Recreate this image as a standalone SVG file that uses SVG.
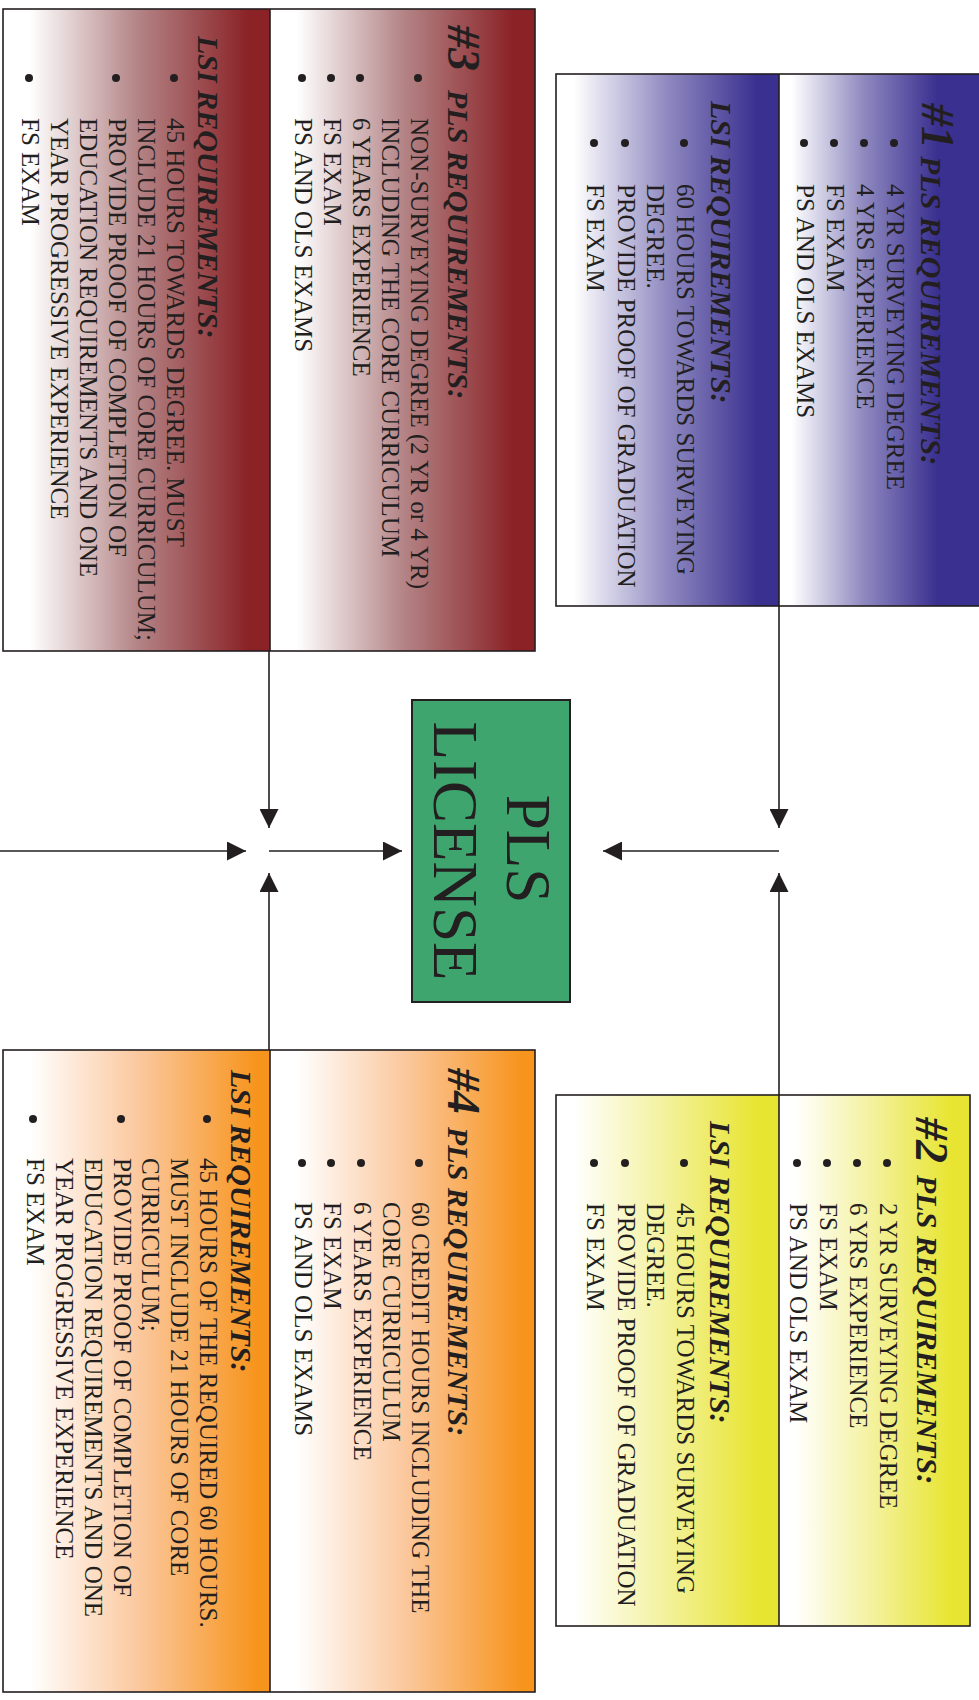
<svg xmlns="http://www.w3.org/2000/svg" width="979" height="1700" viewBox="0 0 979 1700">
<defs>
<linearGradient id="gBlue"><stop offset="0.08" stop-color="#ffffff"/><stop offset="0.5" stop-color="#8f89c0"/><stop offset="0.9" stop-color="#3a3090"/></linearGradient>
<linearGradient id="gBlueR"><stop offset="0.06" stop-color="#ffffff"/><stop offset="0.4" stop-color="#8f89c0"/><stop offset="0.75" stop-color="#3a3090"/></linearGradient>
<linearGradient id="gYel"><stop offset="0.08" stop-color="#ffffff"/><stop offset="0.5" stop-color="#f3f19a"/><stop offset="0.9" stop-color="#e8e532"/></linearGradient>
<linearGradient id="gRed"><stop offset="0.1" stop-color="#ffffff"/><stop offset="0.5" stop-color="#b48587"/><stop offset="0.92" stop-color="#8a2226"/></linearGradient>
<linearGradient id="gOra"><stop offset="0.1" stop-color="#ffffff"/><stop offset="0.5" stop-color="#fbc9a0"/><stop offset="0.95" stop-color="#f7941d"/></linearGradient>
<marker id="ah" viewBox="0 0 10 10" refX="10" refY="5" markerWidth="19" markerHeight="19" markerUnits="userSpaceOnUse" orient="auto"><path d="M0,0 L10,5 L0,10 z" fill="#231f20"/></marker>
</defs>
<style>
.t{font-family:"Liberation Serif","Times New Roman",serif;font-size:25px;fill:#231f20}
.h{font-family:"Liberation Serif","Times New Roman",serif;font-size:30px;font-weight:bold;font-style:italic;fill:#231f20}
.n{font-family:"Liberation Serif","Times New Roman",serif;font-size:46px;font-weight:bold;font-style:italic;fill:#231f20}
.g{font-family:"Liberation Serif","Times New Roman",serif;font-size:63px;fill:#231f20;text-anchor:middle}
.box{stroke:#231f20;stroke-width:1.6;fill:none}
.bul{fill:#231f20}
.c{stroke:#231f20;stroke-width:1.6;fill:none}
</style>
<rect width="979" height="1700" fill="#ffffff"/>

<g id="box1">
<rect x="556" y="74" width="223" height="532" fill="url(#gBlue)"/>
<rect x="779" y="74" width="211" height="532" fill="url(#gBlueR)"/>
<rect x="556" y="74" width="434" height="532" class="box"/>
<line x1="779" y1="74" x2="779" y2="606" class="box"/>
<circle class="bul" cx="894" cy="143" r="4"/><circle class="bul" cx="864" cy="143" r="4"/><circle class="bul" cx="834" cy="143" r="4"/><circle class="bul" cx="804" cy="143" r="4"/>
<circle class="bul" cx="684" cy="143" r="4"/><circle class="bul" cx="625" cy="143" r="4"/><circle class="bul" cx="594" cy="143" r="4"/>
<g transform="rotate(90)">
<text class="n" x="103" y="-922">#1</text>
<text class="h" x="156" y="-921">PLS REQUIREMENTS:</text>
<text class="t" x="184" y="-887">4 YR SURVEYING DEGREE</text>
<text class="t" x="184" y="-857">4 YRS EXPERIENCE</text>
<text class="t" x="184" y="-827">FS EXAM</text>
<text class="t" x="184" y="-797">PS AND OLS EXAMS</text>
<text class="h" x="101" y="-711">LSI REQUIREMENTS:</text>
<text class="t" x="184" y="-677">60 HOURS TOWARDS SURVEYING</text>
<text class="t" x="184" y="-647">DEGREE.</text>
<text class="t" x="184" y="-618">PROVIDE PROOF OF GRADUATION</text>
<text class="t" x="184" y="-587">FS EXAM</text>
</g>
</g>

<g id="box2">
<rect x="556" y="1095" width="223" height="531" fill="url(#gYel)"/>
<rect x="779" y="1095" width="191" height="531" fill="url(#gYel)"/>
<rect x="556" y="1095" width="414" height="531" class="box"/>
<line x1="779" y1="1095" x2="779" y2="1626" class="box"/>
<circle class="bul" cx="887" cy="1163" r="4"/><circle class="bul" cx="857" cy="1163" r="4"/><circle class="bul" cx="827" cy="1163" r="4"/><circle class="bul" cx="797" cy="1163" r="4"/>
<circle class="bul" cx="684" cy="1163" r="4"/><circle class="bul" cx="625" cy="1163" r="4"/><circle class="bul" cx="594" cy="1163" r="4"/>
<g transform="rotate(90)">
<text class="n" x="1117" y="-916">#2</text>
<text class="h" x="1175" y="-917">PLS REQUIREMENTS:</text>
<text class="t" x="1203" y="-880">2 YR SURVEYING DEGREE</text>
<text class="t" x="1203" y="-850">6 YRS EXPERIENCE</text>
<text class="t" x="1203" y="-820">FS EXAM</text>
<text class="t" x="1203" y="-790">PS AND OLS EXAM</text>
<text class="h" x="1121" y="-710">LSI REQUIREMENTS:</text>
<text class="t" x="1203" y="-677">45 HOURS TOWARDS SURVEYING</text>
<text class="t" x="1203" y="-647">DEGREE.</text>
<text class="t" x="1203" y="-618">PROVIDE PROOF OF GRADUATION</text>
<text class="t" x="1203" y="-587">FS EXAM</text>
</g>
</g>

<g id="box3">
<rect x="3" y="9" width="267" height="642" fill="url(#gRed)"/>
<rect x="270" y="9" width="265" height="642" fill="url(#gRed)"/>
<rect x="3" y="9" width="532" height="642" class="box"/>
<line x1="270" y1="9" x2="270" y2="651" class="box"/>
<circle class="bul" cx="418" cy="78" r="4"/><circle class="bul" cx="360" cy="78" r="4"/><circle class="bul" cx="331" cy="78" r="4"/><circle class="bul" cx="302" cy="78" r="4"/>
<circle class="bul" cx="174" cy="78" r="4"/><circle class="bul" cx="116" cy="78" r="4"/><circle class="bul" cx="29" cy="78" r="4"/>
<g transform="rotate(90)">
<text class="n" x="25" y="-448">#3</text>
<text class="h" x="90" y="-448">PLS REQUIREMENTS:</text>
<text class="t" x="118" y="-411">NON-SURVEYING DEGREE (2 YR or 4 YR)</text>
<text class="t" x="118" y="-382">INCLUDING THE CORE CURRICULUM</text>
<text class="t" x="118" y="-353">6 YEARS EXPERIENCE</text>
<text class="t" x="118" y="-324">FS EXAM</text>
<text class="t" x="118" y="-295">PS AND OLS EXAMS</text>
<text class="h" x="36" y="-198">LSI REQUIREMENTS:</text>
<text class="t" x="118" y="-167">45 HOURS TOWARDS DEGREE. MUST</text>
<text class="t" x="118" y="-138">INCLUDE 21 HOURS OF CORE CURRICULUM;</text>
<text class="t" x="118" y="-109">PROVIDE PROOF OF COMPLETION OF</text>
<text class="t" x="118" y="-80">EDUCATION REQUIREMENTS AND ONE</text>
<text class="t" x="118" y="-51">YEAR PROGRESSIVE EXPERIENCE</text>
<text class="t" x="118" y="-22">FS EXAM</text>
</g>
</g>

<g id="box4">
<rect x="3" y="1050" width="267" height="642" fill="url(#gOra)"/>
<rect x="270" y="1050" width="265" height="642" fill="url(#gOra)"/>
<rect x="3" y="1050" width="532" height="642" class="box"/>
<line x1="270" y1="1050" x2="270" y2="1692" class="box"/>
<circle class="bul" cx="419" cy="1163" r="4"/><circle class="bul" cx="361" cy="1163" r="4"/><circle class="bul" cx="331" cy="1163" r="4"/><circle class="bul" cx="302" cy="1163" r="4"/>
<circle class="bul" cx="207" cy="1119" r="4"/><circle class="bul" cx="121" cy="1119" r="4"/><circle class="bul" cx="33" cy="1119" r="4"/>
<g transform="rotate(90)">
<text class="n" x="1068" y="-448">#4</text>
<text class="h" x="1127" y="-448">PLS REQUIREMENTS:</text>
<text class="t" x="1202" y="-412">60 CREDIT HOURS INCLUDING THE</text>
<text class="t" x="1202" y="-383">CORE CURRICULUM</text>
<text class="t" x="1202" y="-354">6 YEARS EXPERIENCE</text>
<text class="t" x="1202" y="-324">FS EXAM</text>
<text class="t" x="1202" y="-295">PS AND OLS EXAMS</text>
<text class="h" x="1070" y="-231">LSI REQUIREMENTS:</text>
<text class="t" x="1158" y="-200">45 HOURS OF THE REQUIRED 60 HOURS.</text>
<text class="t" x="1158" y="-171">MUST INCLUDE 21 HOURS OF CORE</text>
<text class="t" x="1158" y="-142">CURRICULUM;</text>
<text class="t" x="1158" y="-114">PROVIDE PROOF OF COMPLETION OF</text>
<text class="t" x="1158" y="-85">EDUCATION REQUIREMENTS AND ONE</text>
<text class="t" x="1158" y="-56">YEAR PROGRESSIVE EXPERIENCE</text>
<text class="t" x="1158" y="-27">FS EXAM</text>
</g>
</g>

<g id="license">
<rect x="412" y="700" width="158" height="302" fill="#3da56d" stroke="#231f20" stroke-width="2"/>
<g transform="rotate(90)">
<text class="g" x="849" y="-507">PLS</text>
<text class="g" x="851" y="-434">LICENSE</text>
</g>
</g>

<g id="connectors">
<path class="c" d="M269,651 L269,828" marker-end="url(#ah)"/>
<path class="c" d="M269,1050 L269,873" marker-end="url(#ah)"/>
<path class="c" d="M779,606 L779,828" marker-end="url(#ah)"/>
<path class="c" d="M779,1095 L779,873" marker-end="url(#ah)"/>
<path class="c" d="M0,851 L246,851" marker-end="url(#ah)"/>
<path class="c" d="M269,851 L402,851" marker-end="url(#ah)"/>
<path class="c" d="M779,851 L603,851" marker-end="url(#ah)"/>
</g>
</svg>
